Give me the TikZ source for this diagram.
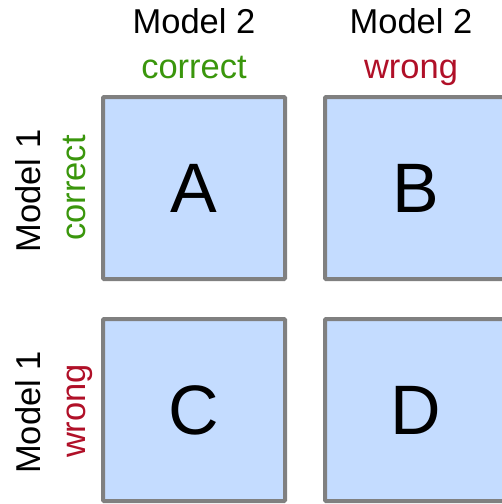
\documentclass[tikz,border=0pt]{standalone}
\usepackage{fontspec}
\setmainfont{Liberation Sans}
\definecolor{boxfill}{RGB}{196,220,255}
\definecolor{boxline}{RGB}{128,128,128}
\definecolor{okgreen}{RGB}{58,150,12}
\definecolor{badred}{RGB}{176,16,40}
\tikzset{
  cell/.style={draw=boxline, fill=boxfill, line width=4pt, minimum size=182pt,
    inner sep=0pt, rounded corners=1pt, font=\fontsize{70}{80}\selectfont},
  lab/.style={anchor=base, inner sep=0pt, font=\fontsize{34.5}{40}\selectfont},
}
\begin{document}
\begin{tikzpicture}[x=1pt,y=-1pt]
\useasboundingbox[clip] (0,0) rectangle (502,504);
\node[cell] (A) at (194,188) {A};
\node[cell] (B) at (416,188) {B};
\node[cell] (C) at (194,410) {C};
\node[cell] (D) at (416,410) {D};
\node[lab] (t1) at (194,33.3) {Model 2};
\node[lab, text=okgreen] (t2) at (194,78) {correct};
\node[lab] (t3) at (411,33.3) {Model 2};
\node[lab, text=badred] (t4) at (411,78) {wrong};
\node[lab, rotate=90] (l1) at (40,191) {Model 1};
\node[lab, rotate=90, text=okgreen] (l2) at (85,188) {correct};
\node[lab, rotate=90] (l3) at (40,412.5) {Model 1};
\node[lab, rotate=90, text=badred] (l4) at (85,411) {wrong};
\end{tikzpicture}
\end{document}
